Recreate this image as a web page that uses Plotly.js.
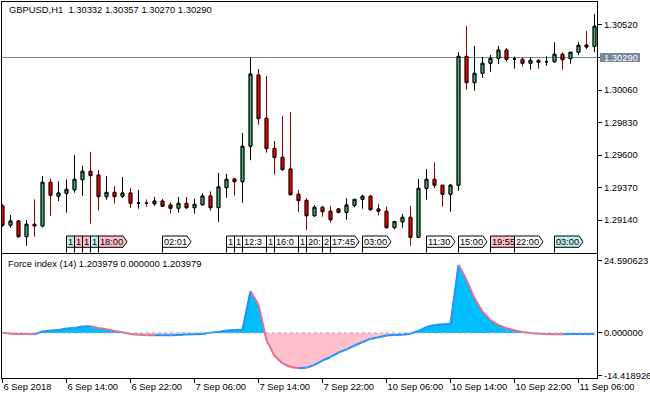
<!DOCTYPE html>
<html><head><meta charset="utf-8">
<script src="https://cdn.plot.ly/plotly-3.0.1.min.js"></script>
<style>html,body{margin:0;padding:0;background:#fff}#chart{width:650px;height:400px}</style>
</head><body><div id="chart"></div>
<script>
// ---------------- DATA ----------------
const symbolTitle = "GBPUSD,H1  1.30332 1.30357 1.30270 1.30290";
const indicatorTitle = "Force index (14) 1.203979 0.000000 1.203979";
const bidPrice = 1.30290;

const openP = [1.29239,1.29103,1.29133,1.29022,1.29110,1.29098,1.29407,1.29308,1.29329,1.29354,
 1.29425,1.29485,1.29458,1.29305,1.29336,1.29308,1.29331,1.29260,1.29260,1.29255,
 1.29274,1.29246,1.29223,1.29258,1.29227,1.29248,1.29310,1.29227,1.29369,1.29430,
 1.29411,1.29662,1.30166,1.29860,1.29647,1.29584,1.29501,1.29322,1.29279,1.29170,
 1.29230,1.29202,1.29218,1.29194,1.29244,1.29286,1.29308,1.29218,1.29202,1.29086,
 1.29127,1.29159,1.29017,1.29364,1.29428,1.29386,1.29322,1.29386,1.30298,1.30112,
 1.30178,1.30249,1.30284,1.30343,1.30279,1.30277,1.30249,1.30270,1.30260,1.30260,
 1.30313,1.30282,1.30327,1.30378,1.30368];
const highP = [1.29253,1.29175,1.29140,1.29140,1.29286,1.29451,1.29435,1.29414,1.29428,1.29600,
 1.29524,1.29621,1.29494,1.29451,1.29381,1.29444,1.29366,1.29352,1.29286,1.29303,
 1.29289,1.29265,1.29303,1.29303,1.29291,1.29329,1.29343,1.29473,1.29466,1.29439,
 1.29756,1.30291,1.30209,1.30159,1.29699,1.29876,1.29904,1.29352,1.29294,1.29244,
 1.29241,1.29239,1.29225,1.29294,1.29286,1.29319,1.29319,1.29255,1.29234,1.29133,
 1.29182,1.29239,1.29430,1.29501,1.29548,1.29386,1.29395,1.30327,1.30513,1.30371,
 1.30293,1.30308,1.30371,1.30357,1.30296,1.30289,1.30291,1.30277,1.30298,1.30398,
 1.30327,1.30327,1.30398,1.30477,1.30598];
const lowP = [1.29090,1.29086,1.29015,1.28958,1.29022,1.29088,1.29168,1.29274,1.29192,1.29333,
 1.29312,1.29114,1.29206,1.29284,1.29258,1.29296,1.29225,1.29220,1.29234,1.29241,
 1.29232,1.29185,1.29192,1.29218,1.29185,1.29244,1.29206,1.29126,1.29298,1.29312,
 1.29262,1.29563,1.29814,1.29616,1.29461,1.29489,1.29315,1.29197,1.29069,1.29163,
 1.29163,1.29121,1.29188,1.29142,1.29230,1.29220,1.29206,1.29173,1.29078,1.29074,
 1.29086,1.28958,1.29017,1.29284,1.29364,1.29234,1.29199,1.29347,1.30062,1.30055,
 1.30147,1.30189,1.30244,1.30260,1.30211,1.30225,1.30204,1.30211,1.30232,1.30253,
 1.30204,1.30246,1.30306,1.30350,1.30327];
const closeP = [1.29103,1.29133,1.29022,1.29110,1.29098,1.29407,1.29315,1.29331,1.29357,1.29428,
 1.29485,1.29454,1.29305,1.29336,1.29305,1.29331,1.29258,1.29260,1.29258,1.29274,
 1.29237,1.29223,1.29258,1.29227,1.29251,1.29310,1.29227,1.29374,1.29428,1.29411,
 1.29662,1.30173,1.29857,1.29645,1.29581,1.29496,1.29319,1.29277,1.29170,1.29230,
 1.29199,1.29142,1.29194,1.29246,1.29286,1.29308,1.29213,1.29202,1.29086,1.29129,
 1.29159,1.29017,1.29364,1.29428,1.29386,1.29322,1.29386,1.30298,1.30112,1.30178,
 1.30249,1.30284,1.30343,1.30277,1.30279,1.30249,1.30270,1.30256,1.30260,1.30313,
 1.30274,1.30327,1.30376,1.30364,1.30511];

const forceIndex = [0.1,-0.3,-0.35,-0.4,-0.45,0.5,0.8,1.0,1.5,1.7,
 2.15,2.3,1.7,1.25,0.7,0.2,-0.35,-0.6,-0.75,-0.82,
 -0.8,-0.78,-0.72,-0.55,-0.45,-0.35,0.1,0.35,0.8,1.0,
 1.1,14.3,9.6,-2.5,-7.8,-10.4,-11.6,-12.0,-11.9,-10.9,
 -9.4,-8.2,-6.7,-5.6,-4.3,-3.1,-2.05,-1.5,-0.9,-0.7,
 -0.6,-0.3,0.7,2.0,2.7,2.95,3.0,23.2,18.1,11.8,
 7.3,4.4,2.7,1.6,0.9,0.35,0.0,-0.3,-0.38,-0.42,
 -0.45,-0.4,-0.38,-0.36,-0.35];

const timeTickBars = [0,8,16,24,32,40,48,56,64,72];
const timeTickLabels = ["6 Sep 2018","6 Sep 14:00","6 Sep 22:00","7 Sep 06:00","7 Sep 14:00",
 "7 Sep 22:00","10 Sep 06:00","10 Sep 14:00","10 Sep 22:00","11 Sep 06:00"];
const priceTicks = [1.29140,1.29370,1.29600,1.29830,1.30060,1.30290,1.30520];
const fiTicks = [24.590623,0,-14.418926];
const fiTickLabels = ["24.590623","0.000000","-14.418926"];

const eventBars = [8,9,10,11,12,20,28,29,30,33,34,37,38,40,41,45,53,57,61,64,69];
const eventLabels = ["1","1","1","1","18:00","02:01","1","1","12:3","1","16:0","1","20:","2",
 "17:45","03:00","11:30","15:00","19:55","22:00","03:00"];
const eventKinds = ["good","bad","bad","good","bad","none","none","none","none","none","none",
 "none","none","none","none","none","none","none","bad","none","good"];

// ---------------- BUILD ----------------
const bars = openP.map((_, i) => i);
const bodyHigh = openP.map((o, i) => Math.max(o, closeP[i]));
const bodyLow = openP.map((o, i) => Math.min(o, closeP[i]));

const GREEN = '#3CB371', RED = '#FF0000', WICK_DN = '#8B0000';
const wicks = {
  type: 'candlestick', x: bars, open: openP, high: highP, low: lowP, close: closeP,
  xaxis: 'x', yaxis: 'y', hoverinfo: 'skip',
  increasing: {line: {color: '#000000', width: 1}, fillcolor: GREEN},
  decreasing: {line: {color: WICK_DN, width: 1}, fillcolor: RED}
};
const bodies = {
  type: 'candlestick', x: bars, open: openP, high: bodyHigh, low: bodyLow, close: closeP,
  xaxis: 'x', yaxis: 'y', hoverinfo: 'skip',
  increasing: {line: {color: '#000000', width: 1}, fillcolor: GREEN},
  decreasing: {line: {color: '#000000', width: 1}, fillcolor: RED}
};

// force index fills (split at zero crossings)
const fx = [], fpos = [], fneg = [];
forceIndex.forEach((v, i) => {
  if (i > 0) {
    const p = forceIndex[i - 1];
    if ((p > 0 && v < 0) || (p < 0 && v > 0)) {
      fx.push(i - 1 + p / (p - v)); fpos.push(0); fneg.push(0);
    }
  }
  fx.push(i); fpos.push(Math.max(v, 0)); fneg.push(Math.min(v, 0));
});
const posFill = {type: 'scatter', mode: 'lines', x: fx, y: fpos, xaxis: 'x2', yaxis: 'y2',
  fill: 'tozeroy', fillcolor: '#00BFFF', line: {width: 0}, hoverinfo: 'skip'};
const negFill = {type: 'scatter', mode: 'lines', x: fx, y: fneg, xaxis: 'x2', yaxis: 'y2',
  fill: 'tozeroy', fillcolor: '#FFC0CB', line: {width: 0}, hoverinfo: 'skip'};

const upX = [], upY = [], dnX = [], dnY = [];
for (let i = 1; i < forceIndex.length; i++) {
  const rising = forceIndex[i] >= forceIndex[i - 1];
  const X = rising ? upX : dnX, Y = rising ? upY : dnY;
  X.push(i - 1, i, null); Y.push(forceIndex[i - 1], forceIndex[i], null);
}
const upLine = {type: 'scatter', mode: 'lines', x: upX, y: upY, xaxis: 'x2', yaxis: 'y2',
  line: {color: '#1E90FF', width: 2}, connectgaps: false, hoverinfo: 'skip'};
const dnLine = {type: 'scatter', mode: 'lines', x: dnX, y: dnY, xaxis: 'x2', yaxis: 'y2',
  line: {color: '#DB7093', width: 2}, connectgaps: false, hoverinfo: 'skip'};

// ---------------- LAYOUT ----------------
const FONT = 'Liberation Sans, Arial, sans-serif';
const XR = [-0.0625, 74.3125];
const shapes = [
  {type: 'line', xref: 'x', yref: 'y', x0: XR[0], x1: XR[1], y0: bidPrice, y1: bidPrice,
   line: {color: '#778899', width: 1}, layer: 'below'},
  {type: 'rect', xref: 'paper', xsizemode: 'pixel', xanchor: 1, x0: 3, x1: 43,
   yref: 'y', ysizemode: 'pixel', yanchor: bidPrice, y0: -4.5, y1: 4.5,
   fillcolor: '#778899', line: {width: 0}, layer: 'above'},
  {type: 'line', xref: 'x2', yref: 'y2', x0: XR[0], x1: XR[1], y0: 0, y1: 0,
   line: {color: '#AAAAAA', width: 1, dash: '3px,3px'}, layer: 'above'}
];
const kindColor = {good: '#BDEFF3', bad: '#FFC0CB', none: '#FFFFFF'};
const FULLW = 3.5625, ARROW = 0.5;
const yTop = 0.3777, yBot = 0.3476, yMid = 0.3625, yPanel = 0.3332;
const annotations = [
  {xref: 'paper', yref: 'paper', x: 0.0079, y: 0.9795, xanchor: 'left', yanchor: 'middle',
   text: symbolTitle, showarrow: false, font: {family: FONT, size: 9.4, color: '#000'}},
  {xref: 'paper', yref: 'paper', x: 0.0067, y: 0.3032, xanchor: 'left', yanchor: 'middle',
   text: indicatorTitle, showarrow: false, font: {family: FONT, size: 9.4, color: '#000'}},
  {xref: 'paper', yref: 'y', x: 1, xshift: 5, y: bidPrice, xanchor: 'left', yanchor: 'middle',
   text: bidPrice.toFixed(5), showarrow: false, font: {family: FONT, size: 9.4, color: '#FFFFFF'}}
];
eventBars.forEach((b, k) => {
  const next = k + 1 < eventBars.length ? eventBars[k + 1] : Infinity;
  const full = (next - b) >= FULLW;
  const w = full ? FULLW : (next - b);
  const x0 = b, x1 = b + w;
  let path = full
    ? `M${x0},${yBot} L${x0},${yTop} L${x1 - ARROW},${yTop} L${x1},${yMid} L${x1 - ARROW},${yBot} Z`
    : `M${x0},${yBot} L${x0},${yTop} L${x1},${yTop} L${x1},${yBot} Z`;
  path += ` M${x0},${yPanel} L${x0},${yBot}`;
  shapes.push({type: 'path', xref: 'x', yref: 'paper', path: path,
    fillcolor: kindColor[eventKinds[k]], line: {color: '#000000', width: 1}, layer: 'above'});
  annotations.push({xref: 'x', yref: 'paper', x: b, xshift: 0.5, y: yMid, xanchor: 'left', yanchor: 'middle',
    text: eventLabels[k], showarrow: false, font: {family: FONT, size: 9.2, color: '#000'}, borderpad: 0});
});

const axisLine = {showline: true, linecolor: '#000000', linewidth: 1, mirror: true,
  showgrid: false, zeroline: false, fixedrange: true};
const layout = {
  width: 650, height: 400,
  margin: {l: 2, r: 53, t: 2, b: 22, pad: 0},
  paper_bgcolor: '#FFFFFF', plot_bgcolor: '#FFFFFF',
  showlegend: false, boxgap: 0.5,
  font: {family: FONT, size: 9.4, color: '#000000'},
  xaxis: Object.assign({}, axisLine, {domain: [0, 1], anchor: 'y', range: XR, type: 'linear',
    showticklabels: false, ticks: '', rangeslider: {visible: false}}),
  yaxis: Object.assign({}, axisLine, {domain: [0.3332, 1], anchor: 'x', side: 'right',
    range: [1.289085, 1.306827], tickvals: priceTicks, ticktext: priceTicks.map(v => v.toFixed(5)),
    ticks: 'outside', ticklen: 4, tickcolor: '#000000'}),
  xaxis2: Object.assign({}, axisLine, {domain: [0, 1], anchor: 'y2', range: XR, type: 'linear',
    tickvals: timeTickBars, ticktext: timeTickLabels, ticks: 'outside', ticklen: 4, tickangle: 0,
    tickcolor: '#000000', ticklabelposition: 'outside right'}),
  yaxis2: Object.assign({}, axisLine, {domain: [0, 0.329], anchor: 'x2', side: 'right',
    range: [-15.36, 26.79], tickvals: fiTicks, ticktext: fiTickLabels,
    ticks: 'outside', ticklen: 4, tickcolor: '#000000'}),
  shapes: shapes,
  annotations: annotations
};

Plotly.newPlot('chart', [posFill, negFill, upLine, dnLine, wicks, bodies], layout,
  {staticPlot: true, displayModeBar: false});
</script>
</body></html>
